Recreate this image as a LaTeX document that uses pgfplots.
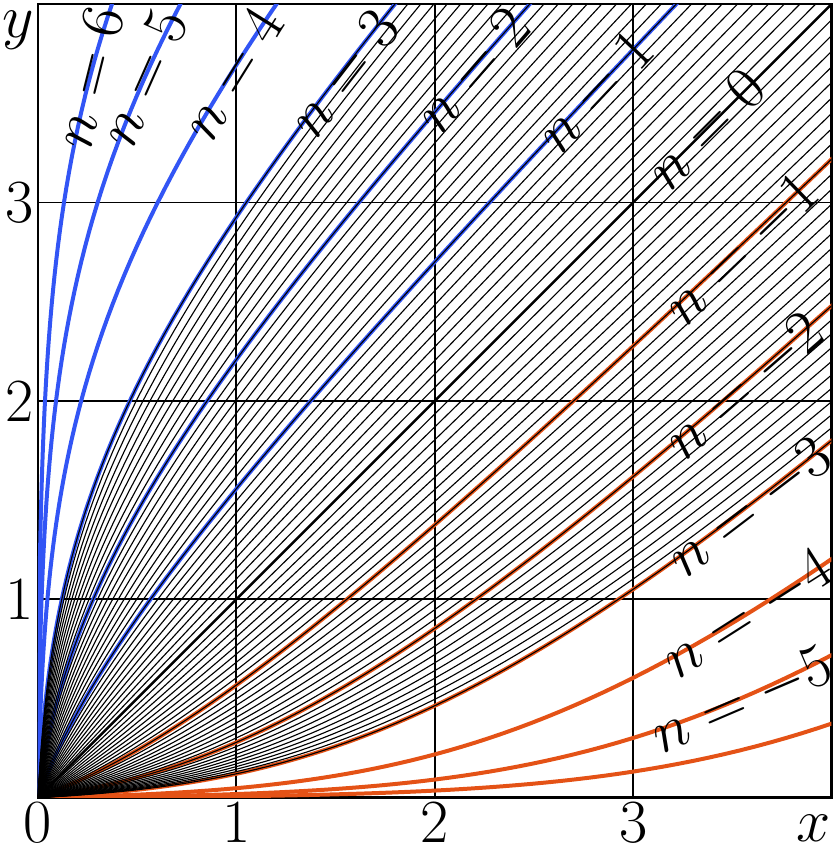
\documentclass[border=0pt]{standalone}
\usepackage{pgfplots}
\pgfplotsset{compat=1.18}
\usepackage{pgfplotstable}
\definecolor{cblue}{RGB}{50,85,245}
\definecolor{corange}{RGB}{228,82,22}
\newcommand\bigf{\fontsize{20.74}{25}\selectfont}

% X(s): abscissa on the curve family, sampled every 0.1 in s (s = x + ln x)
\pgfplotstableread{
s X
-6.0 0.00247
-5.9 0.00273
-5.8 0.00302
-5.7 0.00334
-5.6 0.00368
-5.5 0.00407
-5.4 0.00450
-5.3 0.00497
-5.2 0.00549
-5.1 0.00606
-5.0 0.00669
-4.9 0.00739
-4.8 0.00816
-4.7 0.00901
-4.6 0.00995
-4.5 0.01099
-4.4 0.01213
-4.3 0.01339
-4.2 0.01478
-4.1 0.01630
-4.0 0.01799
-3.9 0.01984
-3.8 0.02189
-3.7 0.02413
-3.6 0.02661
-3.5 0.02932
-3.4 0.03231
-3.3 0.03559
-3.2 0.03920
-3.1 0.04315
-3.0 0.04748
-2.9 0.05222
-2.8 0.05742
-2.7 0.06310
-2.6 0.06930
-2.5 0.07607
-2.4 0.08346
-2.3 0.09150
-2.2 0.10024
-2.1 0.10973
-2.0 0.12003
-1.9 0.13118
-1.8 0.14324
-1.7 0.15626
-1.6 0.17029
-1.5 0.18538
-1.4 0.20158
-1.3 0.21894
-1.2 0.23751
-1.1 0.25734
-1.0 0.27847
-0.9 0.30092
-0.8 0.32474
-0.7 0.34996
-0.6 0.37660
-0.5 0.40468
-0.4 0.43422
-0.3 0.46523
-0.2 0.49772
-0.1 0.53169
0.0 0.56714
0.1 0.60407
0.2 0.64246
0.3 0.68230
0.4 0.72357
0.5 0.76625
0.6 0.81032
0.7 0.85576
0.8 0.90254
0.9 0.95063
1.0 1.00000
1.1 1.05062
1.2 1.10246
1.3 1.15549
1.4 1.20967
1.5 1.26496
1.6 1.32135
1.7 1.37880
1.8 1.43727
1.9 1.49673
2.0 1.55715
2.1 1.61850
2.2 1.68076
2.3 1.74389
2.4 1.80786
2.5 1.87265
2.6 1.93823
2.7 2.00457
2.8 2.07165
2.9 2.13945
3.0 2.20794
3.1 2.27710
3.2 2.34691
3.3 2.41734
3.4 2.48838
3.5 2.56000
3.6 2.63219
3.7 2.70493
3.8 2.77820
3.9 2.85199
4.0 2.92627
4.1 3.00104
4.2 3.07628
4.3 3.15197
4.4 3.22810
4.5 3.30466
4.6 3.38164
4.7 3.45902
4.8 3.53679
4.9 3.61494
5.0 3.69344
5.1 3.77231
5.2 3.85153
5.3 3.93108
5.4 4.01096
5.5 4.09116
}\Wtab

\newcommand\buildcurve[1]{%
  \ifnum#1<0
    \edef\ilo{\the\numexpr0-(#1)\relax}\edef\ihi{115}%
  \else
    \edef\ilo{0}\edef\ihi{\the\numexpr115-(#1)\relax}%
  \fi
  \gdef\curvecoords{(0,0)}%
  \edef\rangelist{\ilo,...,\ihi}%
  \foreach \i in \rangelist {%
    \xdef\curvecoords{\curvecoords(\csname Wx\i\endcsname,\csname Wx\the\numexpr\i+(#1)\relax\endcsname)}%
  }%
}

\begin{document}
\pgfplotstableforeachcolumnelement{X}\of\Wtab\as\val{%
  \expandafter\xdef\csname Wx\pgfplotstablerow\endcsname{\val}}%
\begin{tikzpicture}
\begin{axis}[
  width=9.43cm, height=9.43cm, scale only axis,
  xmin=0, xmax=4, ymin=0, ymax=4,
  xtick={0,1,2,3,4}, ytick={0,1,2,3,4},
  xticklabels={0,1,2,3,{}},
  yticklabels={{},1,2,3,{}},
  major tick length=0pt,
  grid=major,
  major grid style={black, line width=0.65pt},
  axis line style={black, line width=0.75pt},
  tick label style={font=\bigf},
  xticklabel style={inner sep=1.4pt},
  yticklabel style={inner sep=1.4pt},
  xlabel={$x$}, ylabel={$y$},
  every axis x label/.style={at={(rel axis cs:1,0)}, anchor=base east, yshift=-14.8pt, inner sep=0pt, font=\bigf},
  every axis y label/.style={at={(rel axis cs:0,1)}, anchor=north east, inner xsep=1pt, inner ysep=2pt, font=\bigf},
]
% coloured curves n = 1..6 (blue) and n = -1..-6 (orange)
\pgfplotsinvokeforeach{10,20,30,40,50,60}{%
  \buildcurve{#1}%
  \edef\tmp{\noexpand\addplot[cblue, line width=1.35pt] coordinates {\curvecoords};}\tmp
}
\pgfplotsinvokeforeach{-10,-20,-30,-40,-50,-60}{%
  \buildcurve{#1}%
  \edef\tmp{\noexpand\addplot[corange, line width=1.35pt] coordinates {\curvecoords};}\tmp
}
% thin curves n = -3.0, -2.9, ..., 3.0
\pgfplotsinvokeforeach{-30,...,30}{%
  \buildcurve{#1}%
  \edef\tmp{\noexpand\addplot[black, line width=0.38pt] coordinates {\curvecoords};}\tmp
}
% n = 0
\buildcurve{0}%
\edef\tmp{\noexpand\addplot[black, line width=0.85pt] coordinates {\curvecoords};}\tmp

\begin{scope}[every node/.style={font=\bigf, inner sep=0pt}]
\node[rotate=76]   at (0.255,3.63) {$n=6$};
\node[rotate=66]   at (0.53,3.63)  {$n=5$};
\node[rotate=58]   at (0.98,3.65)  {$n=4$};
\node[rotate=52.4] at (1.54,3.65)  {$n=3$};
\node[rotate=49]   at (2.19,3.67)  {$n=2$};
\node[rotate=46.7] at (2.805,3.56) {$n=1$};
\node[rotate=45]   at (3.365,3.37) {$n=0$};
\node[rotate=44]   at (3.55,2.76)  {$n=-1$};
\node[rotate=41]   at (3.565,2.07) {$n=-2$};
\node[rotate=37.3] at (3.59,1.46)  {$n=-3$};
\node[rotate=32.5] at (3.58,0.92)  {$n=-4$};
\node[rotate=23.2] at (3.55,0.485) {$n=-5$};
\end{scope}
\end{axis}
\end{tikzpicture}
\end{document}
